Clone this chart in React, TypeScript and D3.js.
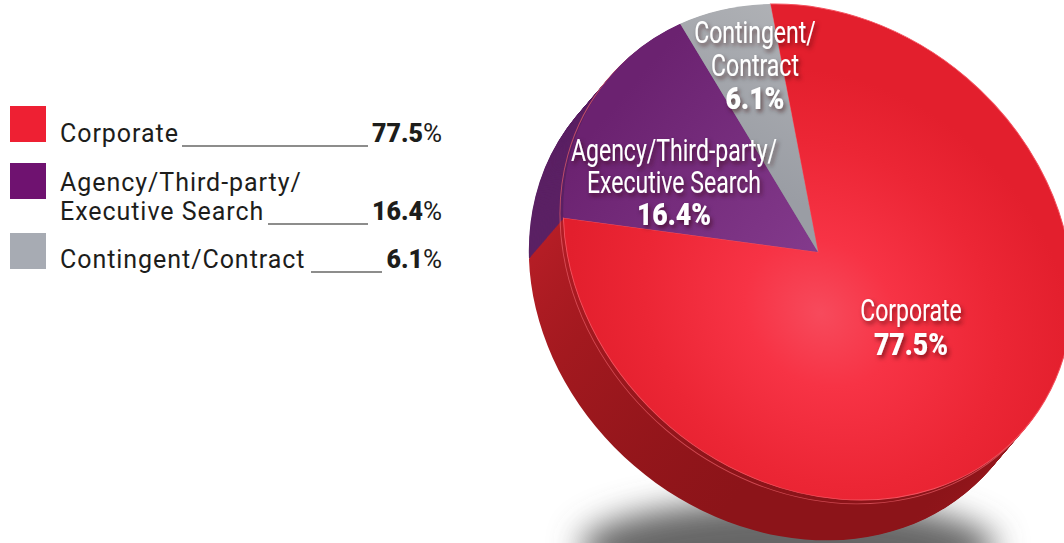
import React from 'react'
import * as d3 from 'd3'

const categories = ['Corporate', 'Agency/Third-party/Executive Search', 'Contingent/Contract']
const shares = [77.5, 16.4, 6.1]

const legendLines = [['Corporate'], ['Agency/Third-party/', 'Executive Search'], ['Contingent/Contract']]
const sliceLines = [['Corporate'], ['Agency/Third-party/', 'Executive Search'], ['Contingent/', 'Contract']]

const legendColors = ['#ee2033', '#6f1270', '#a7abb3']
const faceFills = ['url(#redFace)', 'url(#purpleFace)', 'url(#greyFace)']
const wallFills = ['url(#redWall)', '#5b2064', '#85888e']

const width = 1064
const height = 543

// the disc is an ellipse tilted along its long axis, the apex sits at its centre
const cx = 818
const cy = 252
const tilt = 40.5
const radius = 272
const squash = 229 / 272
const depth = 53

const pctText = (v: number) => v.toFixed(1)

export default function App() {
  const pieData = d3
    .pie<number>()
    .sort(null)
    .startAngle((-46.5 * Math.PI) / 180)
    .endAngle(((360 - 46.5) * Math.PI) / 180)(shares)
  const arc = d3.arc<d3.PieArcDatum<number>>().innerRadius(0).outerRadius(radius)
  const discTransform = `translate(${cx},${cy}) rotate(${tilt}) scale(1,${squash})`

  // side wall is the same disc swept along the short axis
  const wallSteps = d3.range(depth, 0, -1)

  const legendFont = 'Roboto, sans-serif'

  const legendY = [142, 191, 268]
  const legendBoxY = [106, 163, 233]
  const legendRuleStart = [182, 268, 311]
  const legendRuleEnd = [368, 368, 382]

  const labelX = [911, 674, 755]
  const labelY = [321, 161, 43]
  const labelStep = [34, 32, 33]

  return (
    <svg
      width={width}
      height={height}
      style={{ position: 'absolute', left: 0, top: 0, background: '#fff' }}
    >
      <defs>
        <filter id="shadowBlur" x="-30%" y="-150%" width="160%" height="400%">
          <feGaussianBlur stdDeviation="16" />
        </filter>
        <filter id="textShadow" x="-20%" y="-30%" width="140%" height="170%">
          <feDropShadow dx="2" dy="3" stdDeviation="2" floodColor="#300" floodOpacity="0.55" />
        </filter>
        <radialGradient id="redFace" gradientUnits="userSpaceOnUse" cx="42" cy="53" r="270">
          <stop offset="0" stopColor="#f74a5c" />
          <stop offset="0.3" stopColor="#f73345" />
          <stop offset="0.7" stopColor="#ec2635" />
          <stop offset="1" stopColor="#e31f2d" />
        </radialGradient>
        <linearGradient id="purpleFace" gradientUnits="userSpaceOnUse" x1="-250" y1="0" x2="0" y2="0">
          <stop offset="0" stopColor="#6b2270" />
          <stop offset="1" stopColor="#833a8c" />
        </linearGradient>
        <linearGradient id="greyFace" x1="0" y1="0" x2="0.3" y2="1">
          <stop offset="0" stopColor="#b0b2b6" />
          <stop offset="1" stopColor="#9a9da4" />
        </linearGradient>
        <linearGradient id="redWall" x1="0.1" y1="0.4" x2="0.6" y2="1">
          <stop offset="0" stopColor="#c9222d" />
          <stop offset="0.6" stopColor="#a3191f" />
          <stop offset="1" stopColor="#8c1419" />
        </linearGradient>
      </defs>

      <ellipse cx={788} cy={548} rx={208} ry={48} fill="#666" filter="url(#shadowBlur)" />

      {wallSteps.map((step) => (
        <g key={step} transform={`${discTransform} translate(0,${step / squash})`}>
          {pieData.map((d, i) => (
            <path key={i} d={arc(d) as string} fill={wallFills[i]} />
          ))}
        </g>
      ))}

      <g transform={`${discTransform} translate(0,${5 / squash})`}>
        <ellipse rx={radius} ry={radius} fill="none" stroke="#e9606a" strokeWidth={1} opacity={0.7} />
      </g>

      <g transform={discTransform}>
        {pieData.map((d, i) => (
          <path
            key={categories[i]}
            d={arc(d) as string}
            fill={faceFills[i]}
            stroke={i === 0 ? '#f4525f' : 'none'}
            strokeWidth={1}
          />
        ))}
      </g>

      {categories.map((c, i) => (
        <g key={c}>
          <rect x={10} y={legendBoxY[i]} width={36} height={36} fill={legendColors[i]} />
          {legendLines[i].map((line, j) => (
            <text
              key={line}
              x={60}
              y={legendY[i] + j * 29}
              fontFamily={legendFont}
              fontSize={25}
              letterSpacing={0.95}
              fill="#1d1d1b"
            >
              {line}
            </text>
          ))}
          <line
            x1={legendRuleStart[i]}
            x2={legendRuleEnd[i]}
            y1={legendY[i] + (legendLines[i].length - 1) * 29 + 4}
            y2={legendY[i] + (legendLines[i].length - 1) * 29 + 4}
            stroke="#1d1d1b"
            strokeWidth={1.2}
          />
          <text
            x={442}
            y={legendY[i] + (legendLines[i].length - 1) * 29}
            textAnchor="end"
            fontFamily={legendFont}
            fontSize={25}
            fill="#1d1d1b"
          >
            <tspan fontWeight={900}>{pctText(shares[i])}</tspan>
            <tspan fontSize={26}>%</tspan>
          </text>
        </g>
      ))}

      <g filter="url(#textShadow)" fill="#fff" fontFamily="Roboto, sans-serif" textAnchor="middle">
        {categories.map((c, i) => (
          <g key={c}>
            {sliceLines[i].map((line, j) => (
              <text
                key={line}
                transform={`translate(${labelX[i]},${labelY[i] + j * labelStep[i]}) scale(0.72,1)`}
                fontSize={32}
              >
                {line}
              </text>
            ))}
            <text
              transform={`translate(${labelX[i]},${labelY[i] + sliceLines[i].length * labelStep[i]}) scale(0.86,1)`}
              fontSize={31}
              fontWeight={900}
            >
              {pctText(shares[i])}%
            </text>
          </g>
        ))}
      </g>
    </svg>
  )
}
